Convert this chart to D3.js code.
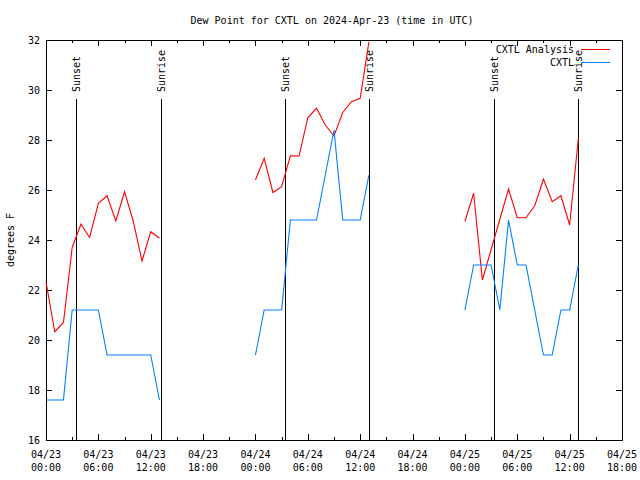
<!DOCTYPE html>
<html>
<head>
<meta charset="utf-8">
<script src="https://cdn.jsdelivr.net/npm/d3@7"></script>
<style>
  html, body { margin: 0; padding: 0; background: #fff; }
  svg text { font-family: "DejaVu Sans Mono", "Liberation Mono", monospace; font-size: 10px; fill: #000; }
</style>
</head>
<body>
<svg id="chart" width="640" height="480"></svg>
<script>
// ---------------- DATA ----------------
const title = "Dew Point for CXTL on 2024-Apr-23 (time in UTC)";
const yLabel = "degrees F";
const startTime = "2024-04-23T00:00:00Z";
// hourly samples (hours after start), null = no data
const analysisValues = [
  22.33, 20.33, 20.7, 23.7, 24.63, 24.1, 25.47, 25.77, 24.76, 25.93, 24.75, 23.16, 24.33, 24.07,
  null, null, null, null, null, null, null, null, null, null,
  26.4, 27.27, 25.9, 26.13, 27.37, 27.36, 28.9, 29.27, 28.6, 28.16, 29.1, 29.53, 29.67, 31.93,
  null, null, null, null, null, null, null, null, null, null,
  24.74, 25.87, 22.4, 23.61, 24.83, 26.04, 24.89, 24.89, 25.37, 26.43, 25.53, 25.77, 24.6, 28.07
];
const obsValues = [
  17.6, 17.6, 17.6, 21.2, 21.2, 21.2, 21.2, 19.4, 19.4, 19.4, 19.4, 19.4, 19.4, 17.6,
  null, null, null, null, null, null, null, null, null, null,
  19.4, 21.2, 21.2, 21.2, 24.8, 24.8, 24.8, 24.8, 26.6, 28.4, 24.8, 24.8, 24.8, 26.6,
  null, null, null, null, null, null, null, null, null, null,
  21.2, 23, 23, 23, 21.2, 24.8, 23, 23, 21.2, 19.4, 19.4, 21.2, 21.2, 23
];
const seriesNames = ["CXTL Analysis", "CXTL"];
const seriesColors = ["#ff0000", "#0080ff"];
const sunEvents = [
  { label: "Sunset",  time: "2024-04-23T03:24:00Z" },
  { label: "Sunrise", time: "2024-04-23T13:08:00Z" },
  { label: "Sunset",  time: "2024-04-24T03:25:00Z" },
  { label: "Sunrise", time: "2024-04-24T13:03:00Z" },
  { label: "Sunset",  time: "2024-04-25T03:20:00Z" },
  { label: "Sunrise", time: "2024-04-25T13:00:00Z" }
];
const yTicks = [16, 18, 20, 22, 24, 26, 28, 30, 32];
const xDomain = ["2024-04-23T00:00:00Z", "2024-04-25T18:00:00Z"];
const yDomain = [16, 32];

// ---------------- CHART ----------------
const svg = d3.select("#chart");
const L = 46, R = 622, T = 40, B = 440;
const t0 = new Date(startTime);
const hour = 3600 * 1000;

const x = d3.scaleUtc().domain(xDomain.map(d => new Date(d))).range([L, R]);
const y = d3.scaleLinear().domain(yDomain).range([B, T]);

const majorX = d3.utcHour.every(6).range(new Date(xDomain[0]), new Date(new Date(xDomain[1]).getTime() + 1));
const minorX = d3.utcHour.every(3).range(new Date(xDomain[0]), new Date(new Date(xDomain[1]).getTime() + 1))
  .filter(d => d.getUTCHours() % 6 !== 0);

function styleAxis(g) {
  g.select(".domain").remove();
  g.selectAll("line").attr("stroke", "#000").attr("shape-rendering", "crispEdges");
  g.selectAll("text").remove();
}

// bottom major / minor
svg.append("g").attr("transform", `translate(0,${B})`)
  .call(d3.axisBottom(x).tickValues(majorX).tickSize(-6).tickFormat("")).call(styleAxis);
svg.append("g").attr("transform", `translate(0,${B})`)
  .call(d3.axisBottom(x).tickValues(minorX).tickSize(-3).tickFormat("")).call(styleAxis);
// top major / minor
svg.append("g").attr("transform", `translate(0,${T})`)
  .call(d3.axisTop(x).tickValues(majorX).tickSize(-6).tickFormat("")).call(styleAxis);
svg.append("g").attr("transform", `translate(0,${T})`)
  .call(d3.axisTop(x).tickValues(minorX).tickSize(-3).tickFormat("")).call(styleAxis);
// left / right
svg.append("g").attr("transform", `translate(${L},0)`)
  .call(d3.axisLeft(y).tickValues(yTicks).tickSize(-6).tickFormat("")).call(styleAxis);
svg.append("g").attr("transform", `translate(${R},0)`)
  .call(d3.axisRight(y).tickValues(yTicks).tickSize(-6).tickFormat("")).call(styleAxis);

// y labels
svg.append("g").selectAll("text").data(yTicks).join("text")
  .attr("x", L - 6).attr("y", d => y(d)).attr("dy", "0.35em")
  .attr("text-anchor", "end").text(d => d);

// x labels (two lines)
const fmtDate = d3.utcFormat("%m/%d"), fmtTime = d3.utcFormat("%H:%M");
const xl = svg.append("g").selectAll("g").data(majorX).join("g");
xl.append("text").attr("x", d => x(d)).attr("y", 454).attr("dy", "0.35em")
  .attr("text-anchor", "middle").text(d => fmtDate(d));
xl.append("text").attr("x", d => x(d)).attr("y", 467).attr("dy", "0.35em")
  .attr("text-anchor", "middle").text(d => fmtTime(d));

// border
svg.append("rect").attr("x", L).attr("y", T).attr("width", R - L).attr("height", B - T)
  .attr("fill", "none").attr("stroke", "#000").attr("shape-rendering", "crispEdges");

// sunrise / sunset lines
const ev = svg.append("g").selectAll("g").data(sunEvents).join("g");
ev.append("line")
  .attr("x1", d => Math.round(x(new Date(d.time))) + 0.5)
  .attr("x2", d => Math.round(x(new Date(d.time))) + 0.5)
  .attr("y1", B).attr("y2", 99)
  .attr("stroke", "#000").attr("stroke-width", 1);
ev.append("text")
  .attr("transform", d => `translate(${Math.round(x(new Date(d.time))) + 0.5},92) rotate(-90)`)
  .attr("dy", "0.35em").attr("text-anchor", "start").text(d => d.label);

// data lines
const pts = vals => vals.map((v, i) => ({ t: new Date(t0.getTime() + i * hour), v }));
const line = d3.line().defined(d => d.v !== null).x(d => x(d.t)).y(d => y(d.v));
[analysisValues, obsValues].forEach((vals, i) => {
  svg.append("path").datum(pts(vals))
    .attr("fill", "none").attr("stroke", seriesColors[i]).attr("stroke-width", 1.1)
    .attr("d", line);
});

// legend
seriesNames.forEach((name, i) => {
  const cy = 49.5 + i * 13;
  svg.append("text").attr("x", 574).attr("y", cy).attr("dy", "0.35em")
    .attr("text-anchor", "end").text(name);
  svg.append("line").attr("x1", 581).attr("x2", 610).attr("y1", cy).attr("y2", cy)
    .attr("stroke", seriesColors[i]).attr("stroke-width", 1).attr("shape-rendering", "crispEdges");
});

// title & y label
svg.append("text").attr("x", 332).attr("y", 20).attr("dy", "0.35em")
  .attr("text-anchor", "middle").text(title);
svg.append("text").attr("transform", "translate(10,240) rotate(-90)")
  .attr("dy", "0.35em").attr("text-anchor", "middle").text(yLabel);
</script>
</body>
</html>
